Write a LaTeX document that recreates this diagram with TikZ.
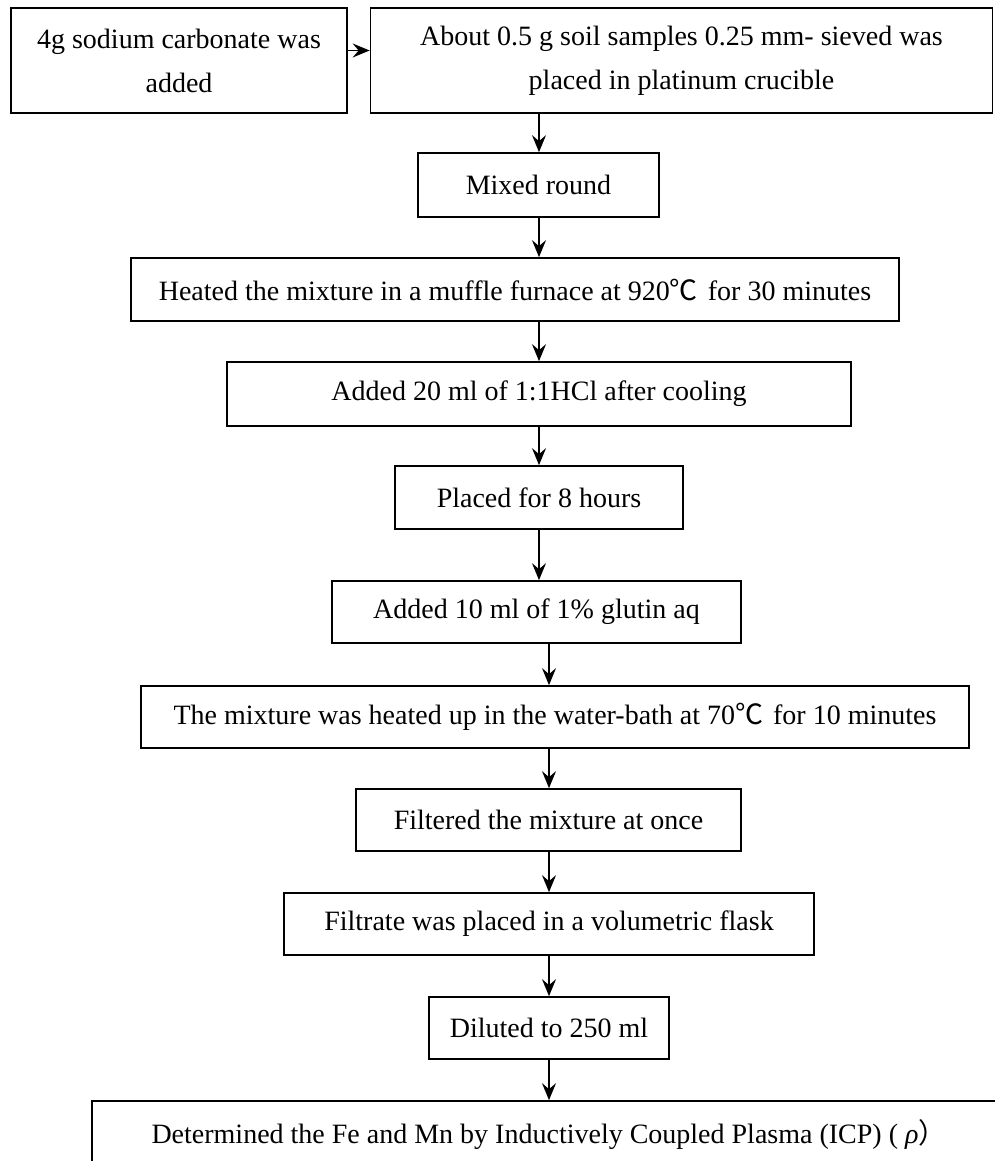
\documentclass[tikz,border=0pt]{standalone}
\usepackage{fontspec}
\setmainfont{Liberation Serif}
\newfontfamily\cjk{Noto Sans CJK SC}
\usetikzlibrary{arrows.meta}
\newcommand{\degc}{{\cjk ℃}\hspace{10pt}}
\begin{document}
\begin{tikzpicture}[x=1pt,y=-1pt,
  box/.style={draw, line width=1.7pt, inner sep=0pt, align=center,
              font=\fontsize{28}{44}\selectfont},
  arr/.style={line width=1.5pt, -{Stealth[length=17pt,width=14pt,inset=6pt]}}]
\useasboundingbox (0,0) rectangle (994,1161);

% arrow columns
\coordinate (c1) at (539,0);
\coordinate (c2) at (549,0);

% process steps
\node[box, minimum width=336pt, minimum height=105pt] (A) at (179,60.5)
  {4g sodium carbonate was\\added};
\node[box, minimum width=622pt, minimum height=105pt] (B) at (681.5,60.5)
  {About 0.5 g soil samples 0.25 mm- sieved was\\placed in platinum crucible};
\node[box, minimum width=241pt, minimum height=64pt] (M) at (538.5,185)
  {Mixed round};
\node[box, minimum width=768pt, minimum height=63pt] (H) at (515,289.5)
  {Heated the mixture in a muffle furnace at 920\degc for 30 minutes};
\node[box, minimum width=624pt, minimum height=64pt] (D) at (539,394)
  {Added 20 ml of 1:1HCl after cooling};
\node[box, minimum width=288pt, minimum height=63pt] (P) at (539,497.5)
  {Placed for 8 hours};
\node[box, minimum width=409pt, minimum height=62pt] (G) at (536.5,612)
  {Added 10 ml of 1\% glutin aq};
\node[box, minimum width=828pt, minimum height=62pt] (W) at (555,717)
  {The mixture was heated up in the water-bath at 70\degc for 10 minutes};
\node[box, minimum width=385pt, minimum height=62pt] (R) at (548.5,820)
  {Filtered the mixture at once};
\node[box, minimum width=530pt, minimum height=62pt] (V) at (549,924)
  {Filtrate was placed in a volumetric flask};
\node[box, minimum width=240pt, minimum height=62pt] (L) at (549,1028)
  {Diluted to 250 ml};
\node[box, minimum width=914pt, minimum height=68pt] (F) at (549,1135)
  {Determined the Fe and Mn by Inductively Coupled Plasma (ICP) ( \textit{ρ}{\cjk ）}};

% connectors
\draw[arr] ([yshift=10pt]A.east) -- ([yshift=10pt]B.west);
\draw[arr] (B.south -| c1) -- (M.north -| c1);
\draw[arr] (M.south -| c1) -- (H.north -| c1);
\draw[arr] (H.south -| c1) -- (D.north -| c1);
\draw[arr] (D.south -| c1) -- (P.north -| c1);
\draw[arr] (P.south -| c1) -- (G.north -| c1);
\draw[arr] (G.south -| c2) -- (W.north -| c2);
\draw[arr] (W.south -| c2) -- (R.north -| c2);
\draw[arr] (R.south -| c2) -- (V.north -| c2);
\draw[arr] (V.south -| c2) -- (L.north -| c2);
\draw[arr] (L.south -| c2) -- (F.north -| c2);
\end{tikzpicture}
\end{document}
